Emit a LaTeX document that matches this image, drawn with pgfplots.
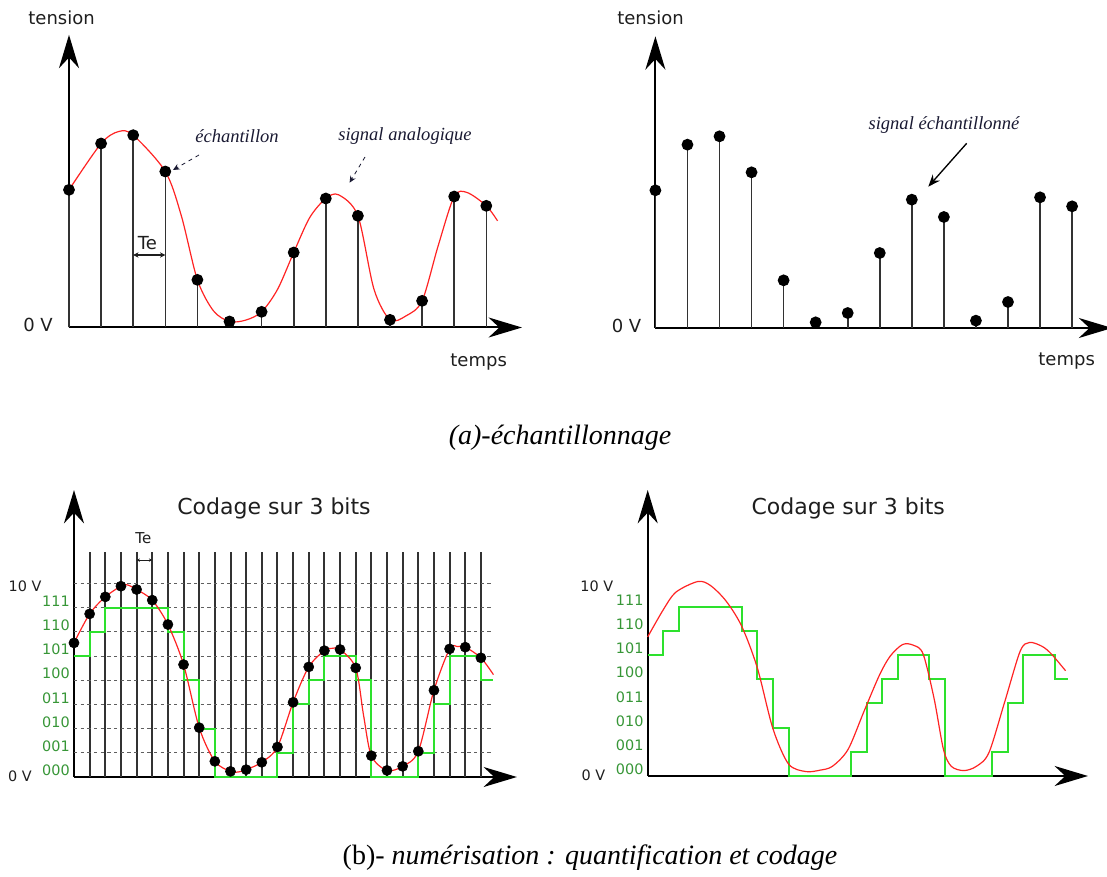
\documentclass[border=0pt]{standalone}
\usepackage{pgfplots}
\pgfplotsset{compat=1.18}
\usepackage{fontspec}
\setmainfont{Liberation Serif}
\newfontfamily\dvsans{DejaVu Sans}
\usetikzlibrary{arrows.meta}

\definecolor{curve}{RGB}{255,35,35}
\definecolor{stem}{RGB}{50,50,50}
\definecolor{quant}{RGB}{45,225,45}
\definecolor{code}{RGB}{55,150,55}
\definecolor{gridc}{RGB}{95,95,95}
\definecolor{ink}{RGB}{30,30,30}
\definecolor{note}{RGB}{25,25,50}

\newcommand\sansA{\dvsans\fontsize{13.5}{16}\selectfont}
\newcommand\sansB{\dvsans\fontsize{10.8}{13}\selectfont}
\newcommand\sansC{\dvsans\fontsize{10.8}{12}\selectfont}
\newcommand\sansT{\dvsans\fontsize{16.5}{19}\selectfont}
\newcommand\noteF{\itshape\fontsize{13.9}{16}\selectfont}
\newcommand\capF{\fontsize{21}{24}\selectfont}

\pgfplotsset{
  schema/.style={
    axis lines=left,
    axis line style={line width=1.5pt, black,
      -{Stealth[length=25pt,width=15pt,inset=8pt]}},
    xtick=\empty, ytick=\empty,
    xmin=0, ymin=0,
    enlargelimits=false,
    clip=false,
    anchor=south west,
  },
}

% binary codes of the 8 quantisation levels
\newcommand\codes{%
  \node[code, font=\sansC, anchor=base east, inner sep=0pt, xshift=-3pt, yshift=1pt] at (axis cs:0,0) {000};
  \node[code, font=\sansC, anchor=base east, inner sep=0pt, xshift=-3pt, yshift=1pt] at (axis cs:0,1.25) {001};
  \node[code, font=\sansC, anchor=base east, inner sep=0pt, xshift=-3pt, yshift=1pt] at (axis cs:0,2.5) {010};
  \node[code, font=\sansC, anchor=base east, inner sep=0pt, xshift=-3pt, yshift=1pt] at (axis cs:0,3.75) {011};
  \node[code, font=\sansC, anchor=base east, inner sep=0pt, xshift=-3pt, yshift=1pt] at (axis cs:0,5) {100};
  \node[code, font=\sansC, anchor=base east, inner sep=0pt, xshift=-3pt, yshift=1pt] at (axis cs:0,6.25) {101};
  \node[code, font=\sansC, anchor=base east, inner sep=0pt, xshift=-3pt, yshift=1pt] at (axis cs:0,7.5) {110};
  \node[code, font=\sansC, anchor=base east, inner sep=0pt, xshift=-3pt, yshift=1pt] at (axis cs:0,8.75) {111};
}

\begin{document}
\begin{tikzpicture}
\path[use as bounding box] (0,0) rectangle (830.25pt,657pt);

% ---------------- (a) sampling: analog signal and samples
\begin{axis}[schema, at={(51.75pt,411.375pt)},
  x=24.075pt, y=25pt, xmax=14.11, ymax=8.78]
  \addplot[curve, line width=0.9pt, smooth] coordinates {
    (0,4.13) (1,5.52) (1.55,5.88) (2,5.77) (3,4.68) (3.5,3.35) (4,1.43)
    (4.5,0.50) (5,0.18) (5.5,0.22) (6,0.47) (6.5,1.15) (7,2.25) (7.5,3.30)
    (8,3.87) (8.4,3.98) (9,3.35) (9.5,1.15) (10,0.23) (10.5,0.35)
    (11,0.80) (11.5,2.45) (12,3.93) (12.4,4.05) (13,3.65) (13.35,3.20)};
  \addplot[stem, line width=1.2pt, ycomb, mark=*, mark size=3.8pt,
    mark options={draw=black, fill=black}] coordinates {
    (0,4.13) (1,5.52) (2,5.77) (3,4.68) (4,1.43) (5,0.18) (6,0.47)
    (7,2.25) (8,3.87) (9,3.35) (10,0.23) (11,0.80) (12,3.93) (13,3.65)};
  \draw[ink, line width=0.8pt, {Stealth[length=4pt,width=4pt]}-{Stealth[length=4pt,width=4pt]}]
    (axis cs:2,2.175) -- (axis cs:3,2.175);
  \node[ink, font=\sansA] at (axis cs:2.44,2.54) {Te};
\end{axis}

\begin{axis}[schema, at={(491.55pt,411pt)},
  x=24.04pt, y=25pt, xmax=14.25, ymax=8.75]
  \addplot[stem, line width=1.2pt, ycomb, mark=*, mark size=3.8pt,
    mark options={draw=black, fill=black}] coordinates {
    (0,4.13) (1,5.50) (2,5.75) (3,4.67) (4,1.43) (5,0.17) (6,0.45)
    (7,2.25) (8,3.85) (9,3.33) (10,0.22) (11,0.78) (12,3.92) (13,3.65)};
\end{axis}

% labels of the sampling panels
\node[ink, font=\sansA] at (46.2pt,643.3pt) {tension};
\node[ink, font=\sansA] at (487.9pt,643.3pt) {tension};
\node[ink, font=\sansA] at (28.5pt,413.3pt) {0 V};
\node[ink, font=\sansA] at (469.9pt,412.5pt) {0 V};
\node[ink, font=\sansA] at (359pt,385.7pt) {temps};
\node[ink, font=\sansA] at (800pt,386.3pt) {temps};
\node[note, font=\noteF] at (177.75pt,555pt) {échantillon};
\node[note, font=\noteF] at (303.75pt,555pt) {signal analogique};
\node[note, font=\noteF] at (708pt,563.3pt) {signal échantillonné};
\draw[note, dashed, line width=0.6pt, -{Stealth[length=5pt,width=4.5pt]}]
  (149.25pt,540.75pt) -- (129.75pt,529.5pt);
\draw[note, dashed, line width=0.6pt, -{Stealth[length=5pt,width=4.5pt]}]
  (273.75pt,539.25pt) -- (262.2pt,520pt);
\draw[black, line width=1pt, -{Stealth[length=9pt,width=7pt]}]
  (725pt,549.5pt) -- (696.2pt,517pt);
\node[font=\capF] at (420pt,328.5pt) {\itshape (a)-échantillonnage};

% ---------------- (b) quantisation and coding on 3 bits
\begin{axis}[schema, at={(55.5pt,74.25pt)},
  x=11.7375pt, y=14.5125pt, xmax=28.3, ymax=14.83]
  % sampling instants
  \addplot[stem, line width=1.5pt, ycomb] coordinates {
    (1,11.64) (2,11.64) (3,11.64) (4,11.64) (5,11.64) (6,11.64) (7,11.64)
    (8,11.64) (9,11.64) (10,11.64) (11,11.64) (12,11.64) (13,11.64)
    (14,11.64) (15,11.64) (16,11.64) (17,11.64) (18,11.64) (19,11.64)
    (20,11.64) (21,11.64) (22,11.64) (23,11.64) (24,11.64) (25,11.64)
    (26,11.64)};
  % quantisation levels (step 10 V / 8)
  \pgfplotsinvokeforeach{1.25,2.5,3.75,5,6.25,7.5,8.75,10}{
    \addplot[gridc, line width=0.75pt, dash pattern=on 2.5pt off 2.5pt]
      coordinates {(0,#1) (26.8,#1)};
  }
  \addplot[quant, line width=1.5pt, const plot] coordinates {
    (0,6.25) (1,7.5) (2,8.75) (6,7.5) (7,5) (8,2.5) (9,0) (13,1.25)
    (14,3.75) (15,5) (16,6.25) (18,5) (19,0) (22,1.25) (23,3.75)
    (24,6.25) (26,5) (26.8,5)};
  \addplot[curve, line width=0.9pt, smooth] coordinates {
    (0,6.93) (1,8.43) (2,9.31) (3,9.86) (3.4,9.93) (4,9.69) (5,9.14)
    (6,7.88) (7,5.81) (8,2.55) (9,0.81) (10,0.29) (10.5,0.26) (11,0.38)
    (12,0.76) (13,1.55) (14,3.86) (15,5.69) (16,6.53) (16.5,6.65)
    (17,6.59) (18,5.64) (18.5,3.2) (19,1.10) (20,0.34) (21,0.55)
    (22,1.33) (23,4.48) (24,6.62) (24.5,6.74) (25,6.71) (26,6.16)
    (26.8,5.29)};
  \addplot[only marks, mark=*, mark size=3.8pt, black] coordinates {
    (0,6.93) (1,8.43) (2,9.31) (3,9.86) (4,9.69) (5,9.14) (6,7.88)
    (7,5.81) (8,2.55) (9,0.81) (10,0.29) (11,0.38) (12,0.76) (13,1.55)
    (14,3.86) (15,5.69) (16,6.53) (17,6.59) (18,5.64) (19,1.10)
    (20,0.34) (21,0.55) (22,1.33) (23,4.48) (24,6.62) (25,6.71)
    (26,6.16)};
  \codes
  \draw[ink, line width=0.6pt, {Stealth[length=2.5pt,width=2.5pt]}-{Stealth[length=2.5pt,width=2.5pt]}]
    (axis cs:4,11.21) -- (axis cs:5,11.21);
  \node[ink, font=\dvsans\fontsize{11.25}{13}\selectfont] at (axis cs:4.43,12.33) {Te};
\end{axis}

\begin{axis}[schema, at={(485.775pt,75pt)},
  x=11.7375pt, y=14.5125pt, xmax=28.13, ymax=14.78]
  \addplot[quant, line width=1.5pt, const plot] coordinates {
    (0,6.25) (1,7.5) (2,8.75) (6,7.5) (7,5) (8,2.5) (9,0) (13,1.25)
    (14,3.75) (15,5) (16,6.25) (18,5) (19,0) (22,1.25) (23,3.75)
    (24,6.25) (26,5) (26.85,5)};
  \addplot[curve, line width=0.9pt, smooth] coordinates {
    (0,7.19) (1,8.6) (1.8,9.5) (3.2,10.05) (4,9.85) (5,9.05) (6,7.75)
    (7,5.6) (8,2.45) (9,0.62) (10.1,0.23) (11,0.3) (11.8,0.5) (12.8,1.37)
    (13.8,3.3) (14.8,5.2) (15.5,6.2) (16.3,6.8) (17,6.75) (17.6,6.3)
    (18.3,4.0) (18.9,1.37) (19.4,0.5) (20.2,0.28) (21,0.5) (21.8,1.2)
    (22.8,3.8) (23.8,6.45) (24.4,6.9) (25.2,6.7) (25.8,6.3) (26.7,5.44)};
  \codes
\end{axis}

\node[ink, font=\sansT] at (205.5pt,275.8pt) {Codage sur 3 bits};
\node[ink, font=\sansT] at (636.2pt,275.8pt) {Codage sur 3 bits};
\node[ink, font=\sansB] at (18.75pt,217pt) {10 V};
\node[ink, font=\sansB] at (15pt,75pt) {0 V};
\node[ink, font=\sansB] at (447.6pt,217.5pt) {10 V};
\node[ink, font=\sansB] at (445pt,75.75pt) {0 V};
\node[font=\capF] at (442.5pt,13.5pt) {(b)\itshape - numérisation : quantification et codage};
\end{tikzpicture}
\end{document}
